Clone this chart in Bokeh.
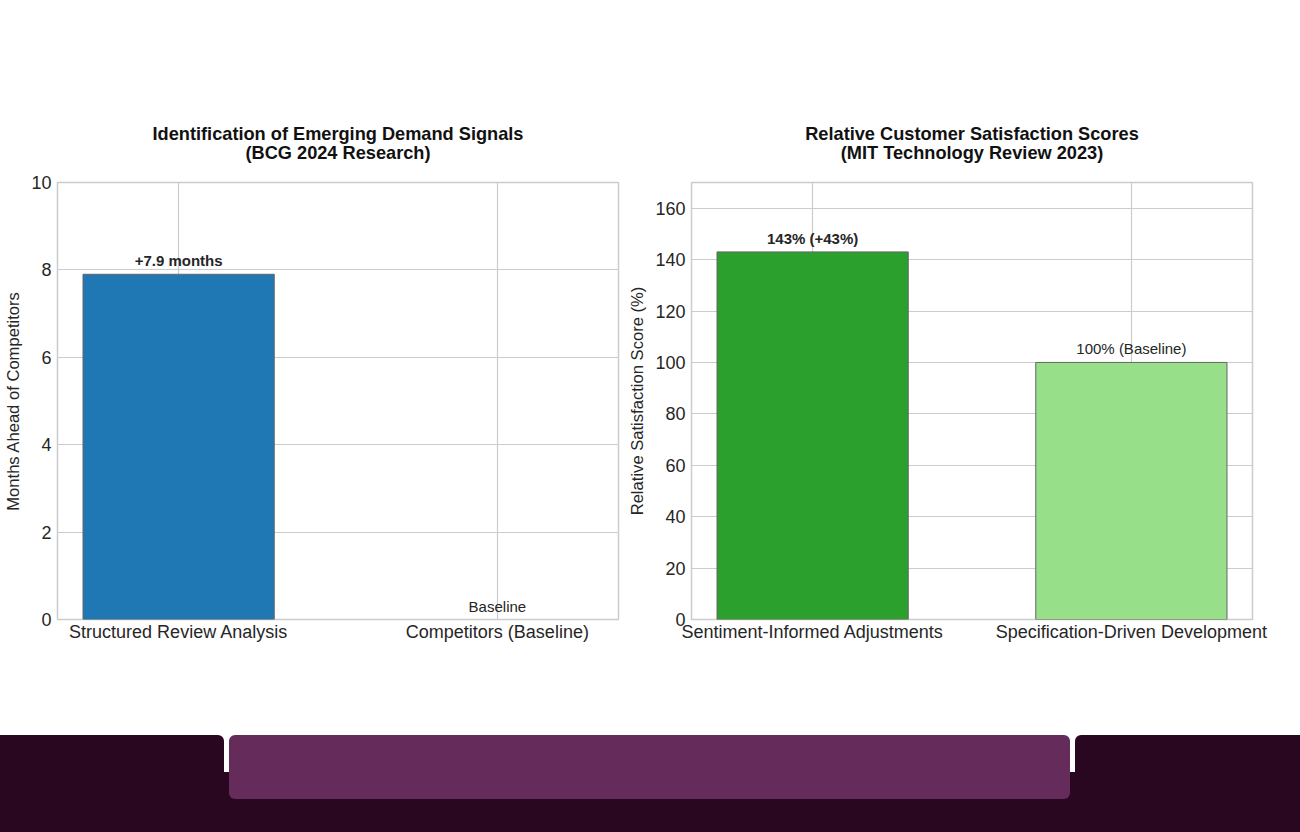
from bokeh.plotting import figure
from bokeh.models import ColumnDataSource, FixedTicker, Range1d, Title, Div
from bokeh.layouts import row, column
from bokeh.core.properties import value
from bokeh.embed import file_html
from bokeh.resources import INLINE

# ---- data ----
left_categories = ["Structured Review Analysis", "Competitors (Baseline)"]
left_values = [7.9, 0.0]
left_labels = ["+7.9 months", "Baseline"]
left_label_styles = ["bold", "normal"]
left_colors = ["#1f77b4", "#1f77b4"]
left_yticks = [0, 2, 4, 6, 8, 10]

right_categories = ["Sentiment-Informed Adjustments", "Specification-Driven Development"]
right_values = [143, 100]
right_labels = ["143% (+43%)", "100% (Baseline)"]
right_label_styles = ["bold", "normal"]
right_colors = ["#2ca02c", "#98df8a"]
right_yticks = [0, 20, 40, 60, 80, 100, 120, 140, 160]

FONT = "Liberation Sans"
TXT = "#262626"
GRID = "#cccccc"


def make_chart(cats, vals, labels, styles, colors, yticks, ymax, ylabel,
               title1, title2, width, border_left, border_right):
    xs = list(range(len(cats)))
    edges = ["#666666" if v > 0 else None for v in vals]
    src = ColumnDataSource(dict(x=xs, top=vals, label=labels, style=styles,
                                color=colors, edge=edges))
    p = figure(width=width, height=735, output_backend="svg", toolbar_location=None,
               x_range=Range1d(-0.38, len(cats) - 1 + 0.38), y_range=Range1d(0, ymax),
               min_border_left=border_left, min_border_right=border_right,
               min_border_top=182, min_border_bottom=116)
    p.title.visible = False
    p.vbar(x="x", top="top", width=0.6, bottom=0, source=src, fill_color="color",
           line_color="edge", line_width=1)
    p.text(x="x", y="top", text="label", source=src, text_align="center",
           text_baseline="bottom", y_offset=-5, text_font=value(FONT),
           text_font_size="15px", text_font_style="style", text_color=TXT)

    p.xaxis.ticker = FixedTicker(ticks=xs)
    p.xaxis.major_label_overrides = {i: c for i, c in enumerate(cats)}
    p.yaxis.ticker = FixedTicker(ticks=yticks)
    for ax in (p.xaxis[0], p.yaxis[0]):
        ax.axis_line_color = None
        ax.major_tick_line_color = None
        ax.minor_tick_line_color = None
        ax.major_tick_out = 0
        ax.major_tick_in = 0
        ax.major_label_text_font = FONT
        ax.major_label_text_font_size = "18px"
        ax.major_label_text_color = TXT
    p.xaxis.major_label_standoff = 2
    p.yaxis.major_label_standoff = 6
    p.yaxis.axis_label = ylabel
    p.yaxis.axis_label_text_font = FONT
    p.yaxis.axis_label_text_font_size = "16.6px"
    p.yaxis.axis_label_text_font_style = "normal"
    p.yaxis.axis_label_text_color = TXT
    p.yaxis.axis_label_standoff = 5

    p.xgrid.grid_line_color = GRID
    p.ygrid.grid_line_color = GRID
    p.xgrid.grid_line_width = 1.2
    p.ygrid.grid_line_width = 1.2
    p.outline_line_color = GRID
    p.outline_line_width = 1.5
    p.background_fill_color = "white"
    p.border_fill_color = "white"

    t2 = Title(text=title2, align="center", text_font=FONT, text_font_size="18.2px",
               text_font_style="bold", text_color="#111111", standoff=40)
    t1 = Title(text=title1, align="center", text_font=FONT, text_font_size="18.2px",
               text_font_style="bold", text_color="#111111", standoff=-46)
    p.add_layout(t2, "above")
    p.add_layout(t1, "above")
    return p


p1 = make_chart(left_categories, left_values, left_labels, left_label_styles, left_colors,
                left_yticks, 10, "Months Ahead of Competitors",
                "Identification of Emerging Demand Signals", "(BCG 2024 Research)",
                625, 57, 7)
p2 = make_chart(right_categories, right_values, right_labels, right_label_styles, right_colors,
                right_yticks, 170, "Relative Satisfaction Score (%)",
                "Relative Customer Satisfaction Scores", "(MIT Technology Review 2023)",
                675, 66, 48)

band_html = """
<div style="position:relative;width:1300px;height:97px;background:#ffffff;">
 <div style="position:absolute;left:0;top:0;width:224px;height:97px;background:#2a0720;border-top-right-radius:6px;"></div>
 <div style="position:absolute;left:1075px;top:0;width:225px;height:97px;background:#2a0720;border-top-left-radius:6px;"></div>
 <div style="position:absolute;left:224px;top:37px;width:851px;height:60px;background:#2a0720;"></div>
 <div style="position:absolute;left:229px;top:0;width:841px;height:64px;background:#642b5b;border-radius:6px;"></div>
</div>
"""
band = Div(text=band_html, width=1300, height=97, margin=(0, 0, 0, 0))

layout = column(row(p1, p2), band)

with open("out.html", "w") as f:
    f.write(file_html(layout, INLINE))
